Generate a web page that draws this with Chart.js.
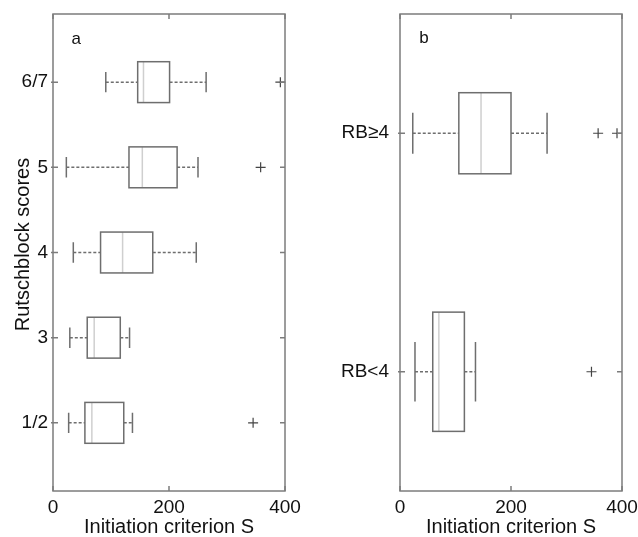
<!DOCTYPE html>
<html>
<head>
<meta charset="utf-8">
<script src="https://cdn.jsdelivr.net/npm/chart.js@4/dist/chart.umd.min.js"></script>
<style>
  body { margin: 0; background: #fff; }
  #wrap { position: relative; width: 638px; height: 537px; }
  #wrap canvas { position: absolute; top: 0; }
</style>
</head>
<body>
<div id="wrap">
  <canvas id="chartA" width="310" height="537" style="left:0"></canvas>
  <canvas id="chartB" width="328" height="537" style="left:310px"></canvas>
</div>
<script>
// panel a : Rutschblock scores, bottom to top
const scoresA = ["1/2", "3", "4", "5", "6/7"];
const lowA = [27, 29, 35, 23, 91];
const q1A = [55, 59, 82, 131, 146];
const medA = [67, 71, 120, 154, 156];
const q3A = [122, 116, 172, 214, 201];
const highA = [137, 132, 247, 250, 264];
const outA = [[345], [], [], [358], [392]];

// panel b : grouped scores, bottom to top
const groupsB = ["RB<4", "RB≥4"];
const lowB = [27, 23];
const q1B = [59, 106];
const medB = [70, 146];
const q3B = [116, 200];
const highB = [136, 265];
const outB = [[345], [357, 391]];

const xTicks = [0, 200, 400];

const LINE = "#6e6e6e";
const FRAME = "#7c7c7c";
const MEDIAN = "#cfcfcf";
const FONT = "Liberation Sans, Arial, sans-serif";

function makeBoxPlugin(s) {
  return {
    id: "boxPlot",
    afterDatasetsDraw(chart) {
      const { ctx, chartArea: a, scales: { x, y } } = chart;
      const px = (v) => x.getPixelForValue(v);
      ctx.save();
      ctx.lineWidth = 1.5;
      s.med.forEach((m, i) => {
        const yc = y.getPixelForValue(i + 1);
        const hb = Math.abs(y.getPixelForValue(i + 1 + s.boxHalf[i]) - yc);
        const hc = Math.abs(y.getPixelForValue(i + 1 + s.capHalf[i]) - yc);

        ctx.strokeStyle = LINE;
        ctx.setLineDash([3, 2]);
        ctx.beginPath();
        ctx.moveTo(px(s.low[i]), yc);
        ctx.lineTo(px(s.q1[i]), yc);
        ctx.moveTo(px(s.q3[i]), yc);
        ctx.lineTo(px(s.high[i]), yc);
        ctx.stroke();
        ctx.setLineDash([]);

        ctx.beginPath();
        ctx.moveTo(px(s.low[i]), yc - hc);
        ctx.lineTo(px(s.low[i]), yc + hc);
        ctx.moveTo(px(s.high[i]), yc - hc);
        ctx.lineTo(px(s.high[i]), yc + hc);
        ctx.stroke();

        ctx.strokeStyle = MEDIAN;
        ctx.beginPath();
        ctx.moveTo(px(m), yc - hb);
        ctx.lineTo(px(m), yc + hb);
        ctx.stroke();

        ctx.strokeStyle = LINE;
        ctx.strokeRect(px(s.q1[i]), yc - hb, px(s.q3[i]) - px(s.q1[i]), 2 * hb);
      });

      // frame with inward ticks
      ctx.strokeStyle = FRAME;
      ctx.strokeRect(a.left, a.top, a.right - a.left, a.bottom - a.top);
      ctx.beginPath();
      xTicks.forEach((v) => {
        ctx.moveTo(px(v), a.bottom);
        ctx.lineTo(px(v), a.bottom - 5);
        ctx.moveTo(px(v), a.top);
        ctx.lineTo(px(v), a.top + 5);
      });
      s.med.forEach((m, i) => {
        const yc = y.getPixelForValue(i + 1);
        ctx.moveTo(a.left - 2, yc);
        ctx.lineTo(a.left + 5, yc);
        ctx.moveTo(a.right, yc);
        ctx.lineTo(a.right - 5, yc);
      });
      ctx.stroke();

      ctx.fillStyle = "#111";
      ctx.font = "17px " + FONT;
      ctx.textAlign = "center";
      ctx.textBaseline = "middle";
      ctx.fillText(s.tag, px(s.tagX), y.getPixelForValue(s.tagY));

      // y title, sits a little above the middle of the axis
      if (s.yTitle) {
        ctx.font = "20px " + FONT;
        ctx.textBaseline = "alphabetic";
        ctx.translate(29, (a.top + a.bottom) / 2 - 8);
        ctx.rotate(-Math.PI / 2);
        ctx.fillText(s.yTitle, 0, 0);
      }
      ctx.restore();
    },
  };
}

function outlierPoints(out) {
  const pts = [];
  out.forEach((list, i) => list.forEach((v) => pts.push({ x: v, y: i + 1 })));
  return pts;
}

function makeChart(id, labels, s, yWidth, rightPad, yPad) {
  new Chart(document.getElementById(id), {
    type: "scatter",
    data: {
      datasets: [
        {
          data: outlierPoints(s.out),
          pointStyle: "cross",
          radius: 5,
          borderColor: "#444",
          borderWidth: 1.2,
          clip: false,
        },
      ],
    },
    options: {
      responsive: false,
      animation: false,
      events: [],
      layout: { padding: { top: 14, right: rightPad, bottom: 0, left: 0 } },
      plugins: { legend: { display: false }, tooltip: { enabled: false } },
      scales: {
        x: {
          type: "linear",
          min: 0,
          max: 400,
          grid: { display: false, drawTicks: false },
          border: { display: false },
          afterBuildTicks: (sc) => { sc.ticks = xTicks.map((v) => ({ value: v })); },
          afterFit: (sc) => { sc.height = 46; sc.paddingLeft = 0; sc.paddingRight = 0; },
          ticks: { color: "#111", padding: 5, font: { family: FONT, size: 19 } },
          title: {
            display: true,
            text: "Initiation criterion S",
            color: "#111",
            padding: 0,
            font: { family: FONT, size: 20, lineHeight: 1 },
          },
        },
        y: {
          type: "linear",
          min: s.yMin,
          max: s.yMax,
          grid: { display: false, drawTicks: false },
          border: { display: false },
          afterBuildTicks: (sc) => { sc.ticks = labels.map((l, i) => ({ value: i + 1 })); },
          afterFit: (sc) => { sc.width = yWidth; sc.paddingTop = 0; sc.paddingBottom = 0; },
          ticks: {
            color: "#111",
            padding: yPad,
            font: { family: FONT, size: 19 },
            callback: (v) => labels[v - 1],
          },
        },
      },
    },
    plugins: [makeBoxPlugin(s)],
  });
}

makeChart("chartA", scoresA, {
  low: lowA, q1: q1A, med: medA, q3: q3A, high: highA, out: outA,
  boxHalf: [0.24, 0.24, 0.24, 0.24, 0.24],
  capHalf: [0.12, 0.12, 0.12, 0.12, 0.12],
  yMin: 0.2, yMax: 5.8,
  tag: "a", tagX: 40, tagY: 5.5,
  yTitle: "Rutschblock scores",
}, 53, 25, 5);

makeChart("chartB", groupsB, {
  low: lowB, q1: q1B, med: medB, q3: q3B, high: highB, out: outB,
  boxHalf: [0.25, 0.17],
  capHalf: [0.125, 0.086],
  yMin: 0.5, yMax: 2.5,
  tag: "b", tagX: 43, tagY: 2.4,
  yTitle: "",
}, 90, 16, 11);
</script>
</body>
</html>
